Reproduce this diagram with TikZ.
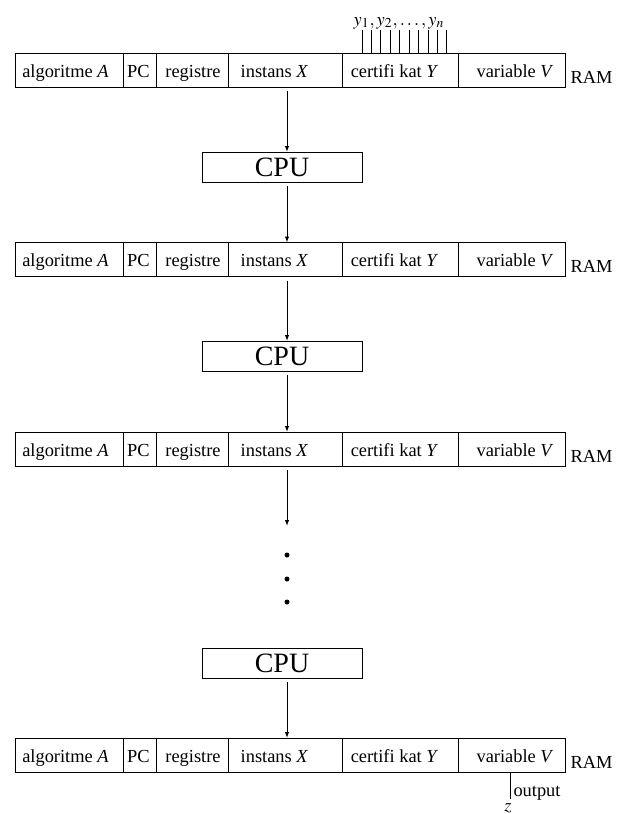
\documentclass[tikz,border=0pt]{standalone}
\usepackage{mathptmx}
\usepackage{fontspec}
\setmainfont{Liberation Serif}
\usetikzlibrary{arrows.meta}
\begin{document}
\begin{tikzpicture}[x=0.5pt,y=-0.5pt,line width=0.5pt,
  cell/.style={draw,minimum height=17pt,inner sep=0pt,outer sep=0pt},
  lbl/.style={font=\fontsize{9.2}{11}\selectfont,inner sep=0pt},
  cpubox/.style={draw,minimum width=80pt,minimum height=15pt,inner sep=0pt,outer sep=0pt,font=\fontsize{14}{16}\selectfont},
  arr/.style={-{Latex[length=3pt,width=2.2pt]},shorten <=2pt}]
\useasboundingbox (0,0) rectangle (625,814);
\coordinate (axis) at (287,0);
\foreach \r/\cy in {1/70,2/259.5,3/449,4/755} {
  \node[cell,minimum width=54pt]   (r\r-c1) at (69,\cy) {};
  \node[cell,minimum width=16.5pt] (r\r-c2) at (139.5,\cy) {};
  \node[cell,minimum width=36pt]   (r\r-c3) at (192,\cy) {};
  \node[cell,minimum width=57pt]   (r\r-c4) at (285,\cy) {};
  \node[cell,minimum width=58pt]   (r\r-c5) at (400,\cy) {};
  \node[cell,minimum width=53.5pt] (r\r-c6) at (511.5,\cy) {};
  \node[lbl,anchor=base] (t\r-1) at (65.5,\cy+7) {algoritme \textit{A}};
  \node[lbl,anchor=base] (t\r-2) at (138.5,\cy+7) {PC};
  \node[lbl,anchor=base] (t\r-3) at (193,\cy+7) {registre};
  \node[lbl,anchor=base] (t\r-4) at (274.5,\cy+7) {instans \textit{X}};
  \node[lbl,anchor=base] (t\r-5) at (394.5,\cy+7) {certifi kat \textit{Y}};
  \node[lbl,anchor=base] (t\r-6) at (515,\cy+7) {variable \textit{V}};
  \node[lbl,anchor=base west] (ram\r) at (570,\cy+13) {RAM};
}
\node[cpubox] (cpu1) at (282,167) {CPU};
\node[cpubox] (cpu2) at (282,356) {CPU};
\node[cpubox] (cpu3) at (282,663) {CPU};
% tape ticks and certificate symbols
\foreach \k in {0,...,9} \draw ({362+9.44*\k},30) -- ({362+9.44*\k},53);
\node[lbl,anchor=base] (ylab) at (399,25) {$y_1,y_2,\ldots,y_n$};
% arrows
\draw[arr] (r1-c4.south -| axis) -- (cpu1.north -| axis);
\draw[arr] (cpu1.south -| axis) -- (r2-c4.north -| axis);
\draw[arr] (r2-c4.south -| axis) -- (cpu2.north -| axis);
\draw[arr] (cpu2.south -| axis) -- (r3-c4.north -| axis);
\coordinate (end3) at (287,526);
\draw[arr] (r3-c4.south -| axis) -- (end3);
\foreach \y in {555,579,602} \fill (287,\y) circle (1.25pt);
\draw[arr] (cpu3.south -| axis) -- (r4-c4.north -| axis);
% output
\coordinate (outend) at (510,799);
\draw (r4-c6.south -| outend) -- (outend);
\node[lbl,anchor=base west] (outlbl) at (513,796) {output};
\node[lbl,anchor=north] (zlbl) at (508,803) {$z$};
\end{tikzpicture}
\end{document}
